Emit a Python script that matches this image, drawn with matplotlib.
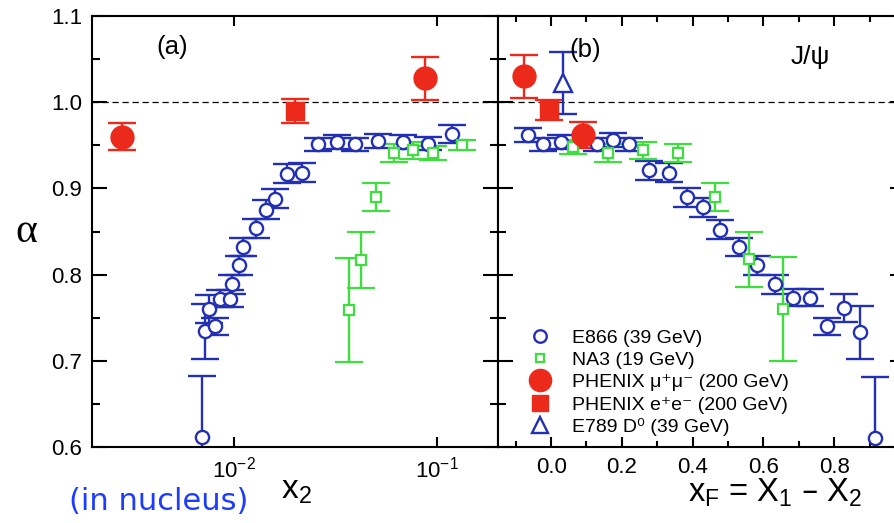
import matplotlib
matplotlib.use("Agg")
import matplotlib.pyplot as plt
from matplotlib.lines import Line2D
from matplotlib.ticker import MultipleLocator, FixedLocator, NullLocator, FormatStrFormatter

plt.rcParams['font.family'] = ['Liberation Sans', 'DejaVu Sans']
plt.rcParams['mathtext.default'] = 'regular'

BLUE = '#2430b4'
GREEN = '#3ede3e'
RED = '#ec2a1c'

# ---- panel (a): alpha vs x2 ----
e866_x2 = [0.00694, 0.00720, 0.00753, 0.00805, 0.00853, 0.00955, 0.00974, 0.01062,
           0.01111, 0.01283, 0.01438, 0.01592, 0.01819, 0.02155, 0.0260, 0.0321,
           0.0395, 0.0514, 0.0683, 0.0906, 0.1187]
e866_a_x2 = [0.612, 0.734, 0.760, 0.740, 0.772, 0.772, 0.789, 0.811,
             0.832, 0.854, 0.875, 0.888, 0.917, 0.918, 0.951, 0.954,
             0.951, 0.955, 0.954, 0.952, 0.963]
e866_err_x2 = [0.070, 0.032, 0.016, 0.010, 0.010, 0.010, 0.011, 0.011,
               0.011, 0.011, 0.011, 0.011, 0.011, 0.011, 0.008, 0.008,
               0.008, 0.008, 0.008, 0.008, 0.010]

na3_x2 = [0.0370, 0.0421, 0.0501, 0.0614, 0.0764, 0.0959, 0.1324]
na3_a_x2 = [0.759, 0.817, 0.890, 0.941, 0.944, 0.941, 0.950]
na3_err_x2 = [0.060, 0.032, 0.016, 0.010, 0.010, 0.008, 0.006]

phx_mumu_x2 = [0.00280, 0.0873]
phx_mumu_a_x2 = [0.960, 1.028]
phx_mumu_err_x2 = [0.016, 0.025]

phx_ee_x2 = [0.0200]
phx_ee_a_x2 = [0.990]
phx_ee_err_x2 = [0.014]

# ---- panel (b): alpha vs xF ----
e866_xf = [-0.066, -0.022, 0.027, 0.129, 0.174, 0.221, 0.278, 0.334, 0.383, 0.430,
           0.477, 0.532, 0.581, 0.633, 0.684, 0.732, 0.781, 0.829, 0.873, 0.915]
e866_a_xf = [0.962, 0.951, 0.954, 0.951, 0.956, 0.951, 0.921, 0.918, 0.890, 0.878,
             0.852, 0.832, 0.811, 0.789, 0.773, 0.773, 0.740, 0.761, 0.733, 0.611]
e866_err_xf = [0.008, 0.008, 0.008, 0.008, 0.008, 0.008, 0.011, 0.011, 0.011, 0.011,
               0.011, 0.011, 0.011, 0.011, 0.010, 0.010, 0.010, 0.016, 0.031, 0.070]

na3_xf = [0.062, 0.162, 0.259, 0.360, 0.463, 0.560, 0.656]
na3_a_xf = [0.948, 0.941, 0.944, 0.941, 0.890, 0.818, 0.760]
na3_err_xf = [0.008, 0.010, 0.010, 0.010, 0.016, 0.032, 0.060]

phx_mumu_xf = [-0.076, 0.091]
phx_mumu_a_xf = [1.030, 0.962]
phx_mumu_err_xf = [0.025, 0.015]

phx_ee_xf = [-0.005]
phx_ee_a_xf = [0.991]
phx_ee_err_xf = [0.012]

e789_xf = [0.033]
e789_a_xf = [1.022]
e789_err_xf = [0.036]

legend_labels = ['E866 (39 GeV)', 'NA3 (19 GeV)', 'PHENIX \u03bc\u207a\u03bc\u207b (200 GeV)',
                 'PHENIX e\u207ae\u207b (200 GeV)', 'E789 D\u2070 (39 GeV)']

fig = plt.figure(figsize=(8.95, 5.23), dpi=100)
ax_a = fig.add_axes([92 / 895, 76 / 523, 406 / 895, 431 / 523])
ax_b = fig.add_axes([498 / 895, 76 / 523, 407 / 895, 431 / 523])

styles = {
    'e866': dict(fmt='o', color=BLUE, ms=9.5, mfc='white', mec=BLUE, mew=1.7),
    'na3': dict(fmt='s', color=GREEN, ms=7, mfc='white', mec=GREEN, mew=1.6),
    'mumu': dict(fmt='o', color=RED, ms=16.5, mfc=RED, mec=RED),
    'ee': dict(fmt='s', color=RED, ms=12.5, mfc=RED, mec=RED),
    'e789': dict(fmt='^', color=BLUE, ms=13, mfc='white', mec=BLUE, mew=1.7),
}


def draw(ax, x, y, err, key):
    ax.errorbar(x, y, yerr=err, capsize=10, elinewidth=1.7, capthick=1.7,
                linestyle='none', **styles[key])


draw(ax_a, e866_x2, e866_a_x2, e866_err_x2, 'e866')
draw(ax_a, na3_x2, na3_a_x2, na3_err_x2, 'na3')
draw(ax_a, phx_mumu_x2, phx_mumu_a_x2, phx_mumu_err_x2, 'mumu')
draw(ax_a, phx_ee_x2, phx_ee_a_x2, phx_ee_err_x2, 'ee')

draw(ax_b, e866_xf, e866_a_xf, e866_err_xf, 'e866')
draw(ax_b, na3_xf, na3_a_xf, na3_err_xf, 'na3')
draw(ax_b, phx_mumu_xf, phx_mumu_a_xf, phx_mumu_err_xf, 'mumu')
draw(ax_b, phx_ee_xf, phx_ee_a_xf, phx_ee_err_xf, 'ee')
draw(ax_b, e789_xf, e789_a_xf, e789_err_xf, 'e789')

for ax in (ax_a, ax_b):
    ax.axhline(1.0, color='black', lw=0.9, ls=(0, (5, 3)), zorder=1)
    ax.set_ylim(0.6, 1.1)
    ax.yaxis.set_major_locator(MultipleLocator(0.1))
    ax.yaxis.set_minor_locator(MultipleLocator(0.05))
    ax.yaxis.set_major_formatter(FormatStrFormatter('%.1f'))
    for s in ax.spines.values():
        s.set_linewidth(1.5)
    ax.tick_params(axis='both', which='both', direction='in', top=True, right=True,
                   width=1.5, labelsize=16, pad=7)
    ax.tick_params(axis='y', which='major', length=11)
    ax.tick_params(axis='y', which='minor', length=6)
    ax.tick_params(axis='x', which='major', length=7.5)
    ax.tick_params(axis='x', which='minor', length=4)

ax_a.set_xscale('log')
ax_a.set_xlim(0.002, 0.2)
ax_a.xaxis.set_minor_locator(NullLocator())

ax_b.set_xlim(-0.15, 1.0)
ax_b.xaxis.set_major_locator(FixedLocator([0.0, 0.2, 0.4, 0.6, 0.8]))
ax_b.xaxis.set_minor_locator(MultipleLocator(0.1))
ax_b.xaxis.set_major_formatter(FormatStrFormatter('%.1f'))
ax_b.tick_params(axis='y', labelleft=False)

ax_a.text(0.197, 0.928, '(a)', transform=ax_a.transAxes, fontsize=18.5,
          ha='center', va='center')
ax_b.text(0.214, 0.921, '(b)', transform=ax_b.transAxes, fontsize=18.5,
          ha='center', va='center')
ax_b.text(0.767, 0.905, 'J/\u03c8', transform=ax_b.transAxes, fontsize=19,
          ha='center', va='center')

fig.text(0.029, 0.556, '\u03b1', fontsize=30, ha='center', va='center',
         family='Liberation Serif')
fig.text(0.331, 0.063, 'x$_2$', fontsize=24, ha='center', va='center')
fig.text(0.866, 0.057, 'x$_F$ = X$_1$ \u2013 X$_2$', fontsize=23.5, ha='center', va='center')
fig.text(0.177, 0.042, '(in nucleus)', fontsize=22, color='#1d3cff',
         family='DejaVu Sans', ha='center', va='center')

handles = [
    Line2D([], [], ls='none', marker='o', ms=9, mfc='white', mec=BLUE, mew=1.7),
    Line2D([], [], ls='none', marker='s', ms=6, mfc='white', mec=GREEN, mew=1.6),
    Line2D([], [], ls='none', marker='o', ms=16, mfc=RED, mec=RED),
    Line2D([], [], ls='none', marker='s', ms=12, mfc=RED, mec=RED),
    Line2D([], [], ls='none', marker='^', ms=12, mfc='white', mec=BLUE, mew=1.7),
]
ax_b.legend(handles, legend_labels, loc='lower left', bbox_to_anchor=(0.068, 0.025),
            frameon=False, fontsize=14, handlelength=1.45, handletextpad=0.95,
            labelspacing=0.24, borderpad=0, borderaxespad=0)

fig.savefig('out.png', dpi=100)
